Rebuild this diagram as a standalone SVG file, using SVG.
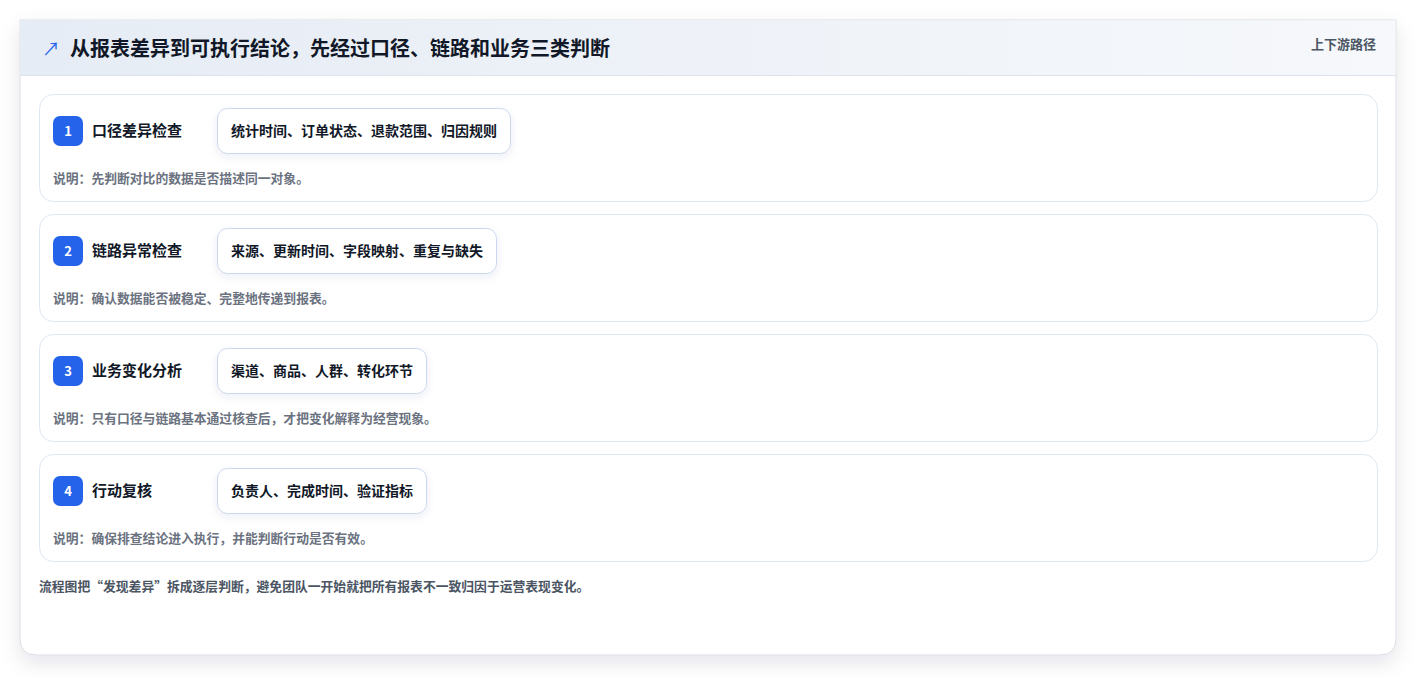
<svg xmlns="http://www.w3.org/2000/svg" width="1417" height="676" viewBox="0 0 1417 676">
<defs>
<linearGradient id="hdr" x1="0" y1="0" x2="1" y2="0">
<stop offset="0" stop-color="#e6ecf5"/>
<stop offset="1" stop-color="#f6f8fb"/>
</linearGradient>
<filter id="cardShadow" x="-5%" y="-5%" width="110%" height="115%">
<feDropShadow dx="0" dy="8" stdDeviation="10" flood-color="#0f172a" flood-opacity="0.10"/>
</filter>
<filter id="tagShadow" x="-10%" y="-30%" width="120%" height="170%">
<feDropShadow dx="0" dy="3" stdDeviation="4" flood-color="#1e3a8a" flood-opacity="0.08"/>
</filter>
</defs>
<style>
text{font-family:"Noto Sans CJK SC","Noto Sans",sans-serif}
.row{fill:#ffffff;stroke:#dfe7f2;stroke-width:1}
.badge{fill:#2563eb}
.num{fill:#ffffff;font-size:13px;font-weight:700;text-anchor:middle}
.ttl{fill:#111827;font-size:15px;font-weight:700}
.tag{fill:#ffffff;stroke:#c9d8ee;stroke-width:1}
.tagt{fill:#111827;font-size:14px;font-weight:700}
.desc{fill:#6b7280;font-size:12.8px;font-weight:700}
</style>
<rect width="1417" height="676" fill="#ffffff"/>
<g id="card">
<path d="M20 20 H1396 V639 Q1396 655 1380 655 H36 Q20 655 20 639 Z" fill="#ffffff" stroke="#d7dce4" stroke-width="1" filter="url(#cardShadow)"/>
<rect x="20.5" y="20.5" width="1375" height="55" fill="url(#hdr)"/>
<line x1="20.5" y1="75.5" x2="1395.5" y2="75.5" stroke="#dbe3ee" stroke-width="1"/>
<text x="42" y="56" fill="#2563eb" font-size="18" font-family="DejaVu Sans,sans-serif">↗</text>
<text x="70" y="56" fill="#111827" font-size="20" font-weight="700">从报表差异到可执行结论，先经过口径、链路和业务三类判断</text>
<text x="1376" y="49" fill="#4b5563" font-size="13" font-weight="700" text-anchor="end">上下游路径</text>
</g>
<g id="connectors"></g>
<g id="step1">
<rect class="row" x="39.5" y="94.5" width="1338" height="107" rx="14"/>
<rect class="badge" x="53" y="116" width="30" height="30" rx="7"/>
<text class="num" x="68" y="136">1</text>
<text class="ttl" x="92" y="136">口径差异检查</text>
<rect class="tag" x="217.5" y="108.5" width="293" height="45" rx="10" filter="url(#tagShadow)"/>
<text class="tagt" x="231" y="136">统计时间、订单状态、退款范围、归因规则</text>
<text class="desc" x="53" y="183">说明：先判断对比的数据是否描述同一对象。</text>
</g>
<g id="step2">
<rect class="row" x="39.5" y="214.5" width="1338" height="107" rx="14"/>
<rect class="badge" x="53" y="236" width="30" height="30" rx="7"/>
<text class="num" x="68" y="256">2</text>
<text class="ttl" x="92" y="256">链路异常检查</text>
<rect class="tag" x="217.5" y="228.5" width="279" height="45" rx="10" filter="url(#tagShadow)"/>
<text class="tagt" x="231" y="256">来源、更新时间、字段映射、重复与缺失</text>
<text class="desc" x="53" y="303">说明：确认数据能否被稳定、完整地传递到报表。</text>
</g>
<g id="step3">
<rect class="row" x="39.5" y="334.5" width="1338" height="107" rx="14"/>
<rect class="badge" x="53" y="356" width="30" height="30" rx="7"/>
<text class="num" x="68" y="376">3</text>
<text class="ttl" x="92" y="376">业务变化分析</text>
<rect class="tag" x="217.5" y="348.5" width="209" height="45" rx="10" filter="url(#tagShadow)"/>
<text class="tagt" x="231" y="376">渠道、商品、人群、转化环节</text>
<text class="desc" x="53" y="423">说明：只有口径与链路基本通过核查后，才把变化解释为经营现象。</text>
</g>
<g id="step4">
<rect class="row" x="39.5" y="454.5" width="1338" height="107" rx="14"/>
<rect class="badge" x="53" y="476" width="30" height="30" rx="7"/>
<text class="num" x="68" y="496">4</text>
<text class="ttl" x="92" y="496">行动复核</text>
<rect class="tag" x="217.5" y="468.5" width="209" height="45" rx="10" filter="url(#tagShadow)"/>
<text class="tagt" x="231" y="496">负责人、完成时间、验证指标</text>
<text class="desc" x="53" y="543">说明：确保排查结论进入执行，并能判断行动是否有效。</text>
</g>
<text x="39" y="591" fill="#4b5563" font-size="12.8" font-weight="700">流程图把“发现差异”拆成逐层判断，避免团队一开始就把所有报表不一致归因于运营表现变化。</text>
</svg>
